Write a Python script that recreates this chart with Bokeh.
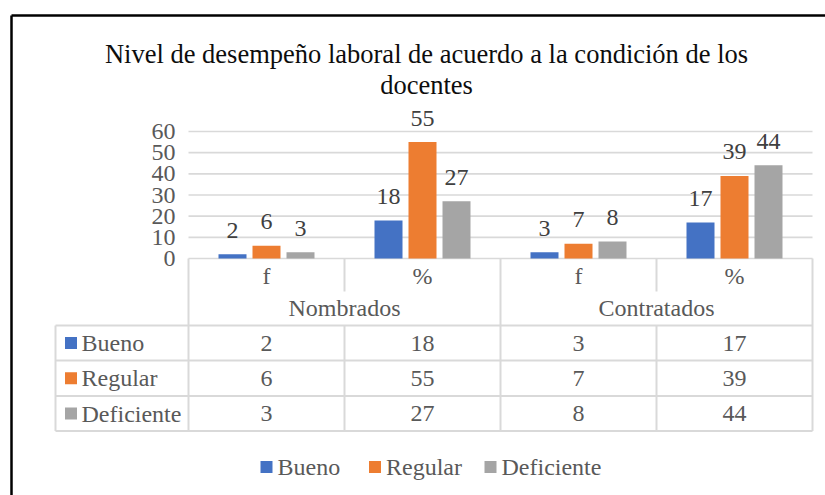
from bokeh.plotting import figure
from bokeh.models import Range1d
from bokeh.core.properties import value
from bokeh.embed import file_html
from bokeh.resources import INLINE

# ---------------- data ----------------
title_lines = ["Nivel de desempeño laboral de acuerdo a la condición de los", "docentes"]
groups = ["Nombrados", "Contratados"]
subcats = ["f", "%", "f", "%"]
series = ["Bueno", "Regular", "Deficiente"]
bueno = [2, 18, 3, 17]
regular = [6, 55, 7, 39]
deficiente = [3, 27, 8, 44]
y_ticks = [0, 10, 20, 30, 40, 50, 60]

values_by_series = [bueno, regular, deficiente]
colors = ["#4472C4", "#ED7D31", "#A5A5A5"]

# ---------------- layout (page pixels) ----------------
W, H = 825, 495
OFF = 0
X0, COL_W = 188, 156            # page x of category 0, px per category
Y0, PX_PER_UNIT = 258, 127 / 60  # page y of value 0, px per value unit


def xu(px):
    return (px - X0) / COL_W


def yu(py):
    return (Y0 - py) / PX_PER_UNIT


FONT = value("'Liberation Serif', 'Times New Roman', serif")
GRID = "#D9D9D9"
TXT = "#595959"

p = figure(width=W, height=H, output_backend="svg", toolbar_location=None, tools="",
           x_range=Range1d(xu(OFF), xu(OFF + W)),
           y_range=Range1d(yu(OFF + H), yu(OFF)),
           x_axis_location=None, y_axis_location=None, min_border=0)
p.outline_line_color = None
p.grid.visible = False
p.background_fill_color = "white"
p.border_fill_color = "white"

n = len(subcats)
centers = [i + 0.5 for i in range(n)]

# black outer frame (left and top edges visible)
p.segment(x0=[xu(11), xu(11)], y0=[yu(15), yu(15)], x1=[xu(11), xu(840)], y1=[yu(520), yu(15)],
          line_color="black", line_width=2.5)

# title
p.text(x=[xu(426)], y=[yu(53)], text=[title_lines[0]], text_align="center", text_baseline="middle",
       text_font=FONT, text_font_size="26.5px", text_color="#0d0d0d")
p.text(x=[xu(426)], y=[yu(84)], text=[title_lines[1]], text_align="center", text_baseline="middle",
       text_font=FONT, text_font_size="26.5px", text_color="#0d0d0d")

# gridlines
p.segment(x0=[0] * len(y_ticks), x1=[n] * len(y_ticks), y0=y_ticks, y1=y_ticks,
          line_color=GRID, line_width=1.6)
# y tick labels
p.text(x=[xu(175)] * len(y_ticks), y=y_ticks, text=[str(t) for t in y_ticks],
       text_align="right", text_baseline="middle", text_font=FONT, text_font_size="24px",
       text_color=TXT)

# bars
pitch = 34 / COL_W
bw = 28 / COL_W
offsets = [-pitch, 0, pitch]
for vals, col, off in zip(values_by_series, colors, offsets):
    xs = [c + off for c in centers]
    p.vbar(x=xs, top=vals, bottom=0, width=bw, fill_color=col, line_color=None)
    p.text(x=xs, y=vals, text=[str(v) for v in vals], text_align="center",
           text_baseline="middle", y_offset=-24, text_font=FONT, text_font_size="24px",
           text_color="#404040")

# ---------------- data table ----------------
row_lines = [325, 360, 395.5, 430.5]
row_centers = [(row_lines[i] + row_lines[i + 1]) / 2 for i in range(3)]
tbl_left = xu(55)

# horizontal lines
p.segment(x0=[tbl_left] * 4, x1=[n] * 4, y0=[yu(r) for r in row_lines], y1=[yu(r) for r in row_lines],
          line_color=GRID, line_width=2)
# vertical lines
p.segment(x0=[tbl_left], x1=[tbl_left], y0=[yu(325)], y1=[yu(430.5)], line_color=GRID, line_width=2)
full_x = [0, 2, 4]
p.segment(x0=full_x, x1=full_x, y0=[yu(258)] * 3, y1=[yu(430.5)] * 3, line_color=GRID, line_width=2)
part_x = [1, 3]
p.segment(x0=part_x, x1=part_x, y0=[yu(258)] * 2, y1=[yu(291)] * 2, line_color=GRID, line_width=2)
p.segment(x0=part_x, x1=part_x, y0=[yu(325)] * 2, y1=[yu(430.5)] * 2, line_color=GRID, line_width=2)

# header labels
p.text(x=centers, y=[yu(275)] * n, text=subcats, text_align="center", text_baseline="middle",
       text_font=FONT, text_font_size="24px", text_color=TXT)
p.text(x=[1, 3], y=[yu(307)] * 2, text=groups, text_align="center", text_baseline="middle",
       text_font=FONT, text_font_size="24px", text_color=TXT)

# row labels with swatches
p.scatter(x=[xu(70.5)] * 3, y=[yu(r) for r in row_centers], marker="square", size=12,
          fill_color=colors, line_color=None)
p.text(x=[xu(81)] * 3, y=[yu(r) for r in row_centers], text=series, text_align="left",
       text_baseline="middle", text_font=FONT, text_font_size="24px", text_color=TXT)

# cell values
for vals, rc in zip(values_by_series, row_centers):
    p.text(x=centers, y=[yu(rc)] * n, text=[str(v) for v in vals], text_align="center",
           text_baseline="middle", text_font=FONT, text_font_size="24px", text_color=TXT)

# ---------------- legend ----------------
leg_sw = [266, 374.5, 490]
leg_tx = [277, 385.5, 501]
p.scatter(x=[xu(v) for v in leg_sw], y=[yu(466.5)] * 3, marker="square", size=12,
          fill_color=colors, line_color=None)
p.text(x=[xu(v) for v in leg_tx], y=[yu(466.5)] * 3, text=series, text_align="left",
       text_baseline="middle", text_font=FONT, text_font_size="24px", text_color=TXT)

open("out.html", "w").write(file_html(p, INLINE))
